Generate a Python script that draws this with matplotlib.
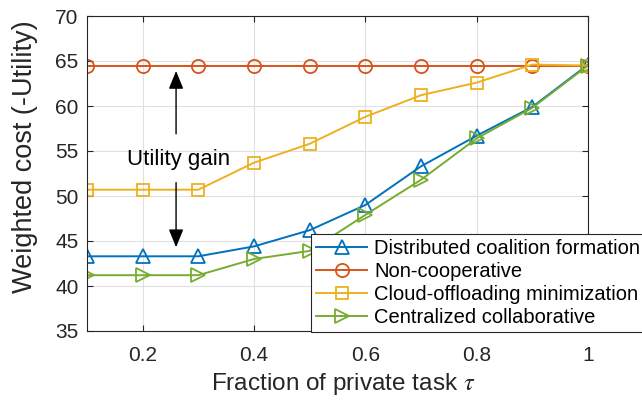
import matplotlib
matplotlib.use("Agg")
import matplotlib.pyplot as plt

plt.rcParams['font.family'] = ['Liberation Sans', 'DejaVu Sans']
plt.rcParams['mathtext.fontset'] = 'stix'

tau = [0.1, 0.2, 0.3, 0.4, 0.5, 0.6, 0.7, 0.8, 0.9, 1.0]
distributed = [43.3, 43.3, 43.3, 44.4, 46.2, 49.0, 53.3, 56.7, 59.9, 64.6]
noncoop = [64.5, 64.5, 64.5, 64.5, 64.5, 64.5, 64.5, 64.5, 64.5, 64.5]
cloud = [50.7, 50.7, 50.7, 53.7, 55.8, 58.8, 61.2, 62.6, 64.6, 64.5]
central = [41.2, 41.2, 41.2, 43.0, 43.9, 47.9, 51.8, 56.4, 59.8, 64.5]

labels = ['Distributed coalition formation', 'Non-cooperative',
          'Cloud-offloading minimization', 'Centralized collaborative']
colors = ['#0072BD', '#D95319', '#EDB120', '#77AC30']
markers = ['^', 'o', 's', '>']
msizes = [10, 9.5, 8.5, 10]
xticks = [0.2, 0.4, 0.6, 0.8, 1.0]
xticklabels = ['0.2', '0.4', '0.6', '0.8', '1']
yticks = [35, 40, 45, 50, 55, 60, 65, 70]

fig = plt.figure(figsize=(6.42, 4.01), dpi=100)
ax = fig.add_axes([87/642, 1-331/401, (588-87)/642, (331-16)/401])

for ys, lab, c, m, ms in zip([distributed, noncoop, cloud, central], labels, colors, markers, msizes):
    ax.plot(tau, ys, color=c, marker=m, markersize=ms, markerfacecolor='none',
            markeredgewidth=1.3, linewidth=1.4, label=lab)

ax.set_xlim(0.1, 1.0)
ax.set_ylim(35, 70)
ax.set_xticks(xticks)
ax.set_xticklabels(xticklabels)
ax.set_yticks(yticks)
ax.grid(True, color='#e0e0e0', linewidth=0.8)
ax.set_axisbelow(True)
ax.tick_params(direction='in', labelsize=15, length=4, top=True, right=True,
               colors='#262626', pad=6)
ax.tick_params(axis='x', pad=11)
for s in ax.spines.values():
    s.set_color('#262626')
    s.set_linewidth(0.8)

ax.set_xlabel(r'Fraction of private task $\tau$', fontsize=17.5, color='#262626')
ax.set_ylabel('Weighted cost (-Utility)', fontsize=19.5, color='#262626')
ax.yaxis.set_label_coords(-0.124, 0.552)
ax.yaxis.label.set_va('center')
ax.xaxis.label.set_va('center')
ax.xaxis.set_label_coords(0.511, -0.168)

# annotation
ax.text(0.265, 54.1, 'Utility gain', fontsize=16, ha='center', va='center')
ax.annotate('', xy=(0.26, 64.2), xytext=(0.26, 56.6),
            arrowprops=dict(arrowstyle='-|>,head_length=1.1,head_width=0.45', color='black', lw=1))
ax.annotate('', xy=(0.26, 44.0), xytext=(0.26, 51.8),
            arrowprops=dict(arrowstyle='-|>,head_length=1.1,head_width=0.45', color='black', lw=1))

leg = ax.legend(loc='lower left', bbox_to_anchor=(0.447, -0.003), fontsize=14.5,
                frameon=True, fancybox=False, edgecolor='#262626', framealpha=1,
                handlelength=2.55, labelspacing=0.2, borderpad=0.25, handletextpad=0.35,
                borderaxespad=0)
leg.get_frame().set_linewidth(0.8)

fig.savefig('out.png', dpi=100)
